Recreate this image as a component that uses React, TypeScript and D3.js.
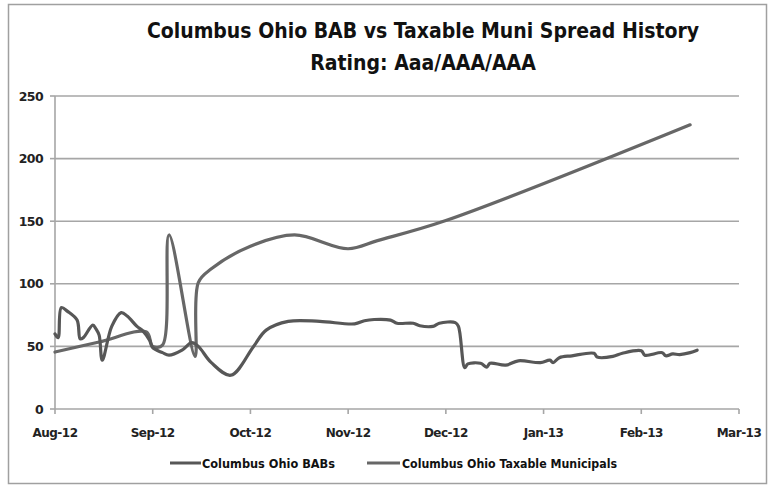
import React from 'react';
import * as d3 from 'd3';

// month boundaries used for the x axis (equal spacing per month, like the source chart)
const monthTicks = [
  '2012-08-01', '2012-09-01', '2012-10-01', '2012-11-01',
  '2012-12-01', '2013-01-01', '2013-02-01', '2013-03-01'
];

const yTicks = [0, 50, 100, 150, 200, 250];

const seriesNames = ['Columbus Ohio BABs', 'Columbus Ohio Taxable Municipals'];
const seriesColors = ['#575757', '#676767'];

// dense series
const babSeries: [string, number][] = [
  ['2012-08-01', 60], ['2012-08-02', 57], ['2012-08-03', 81], ['2012-08-05', 78],
  ['2012-08-08', 71], ['2012-08-09', 56], ['2012-08-10', 57], ['2012-08-13', 67],
  ['2012-08-14', 64], ['2012-08-15', 59], ['2012-08-16', 39], ['2012-08-19', 66],
  ['2012-08-22', 77], ['2012-08-24', 74], ['2012-08-27', 66], ['2012-08-29', 62],
  ['2012-08-31', 55], ['2012-09-01', 49], ['2012-09-04', 45], ['2012-09-06', 43],
  ['2012-09-10', 47], ['2012-09-13', 53], ['2012-09-15', 50], ['2012-09-19', 37],
  ['2012-09-25', 27], ['2012-10-02', 50], ['2012-10-06', 63], ['2012-10-13', 70],
  ['2012-10-23', 70], ['2012-11-03', 68], ['2012-11-06', 70.5], ['2012-11-09', 71.5],
  ['2012-11-14', 71], ['2012-11-16', 68.5], ['2012-11-21', 68.5], ['2012-11-23', 66.5],
  ['2012-11-27', 66], ['2012-11-29', 68.5], ['2012-12-04', 69], ['2012-12-05', 66],
  ['2012-12-07', 33], ['2012-12-08', 36], ['2012-12-12', 36.5], ['2012-12-14', 33.5],
  ['2012-12-15', 36.5], ['2012-12-20', 35], ['2012-12-24', 38.5], ['2012-12-31', 37],
  ['2013-01-03', 39], ['2013-01-04', 37], ['2013-01-06', 41], ['2013-01-10', 42.5],
  ['2013-01-17', 44.5], ['2013-01-18', 41.5], ['2013-01-23', 42], ['2013-01-26', 44.5],
  ['2013-02-01', 46.5], ['2013-02-02', 43], ['2013-02-07', 45], ['2013-02-08', 42.5],
  ['2013-02-10', 44], ['2013-02-12', 43.5], ['2013-02-15', 45], ['2013-02-17', 47]
];

// sparse series
const taxableSeries: [string, number][] = [
  ['2012-08-01', 45.5], ['2012-08-15', 53.5], ['2012-08-30', 61.5], ['2012-09-01', 50],
  ['2012-09-04', 51], ['2012-09-06', 139], ['2012-09-14', 42], ['2012-09-15', 101],
  ['2012-09-19', 112], ['2012-10-01', 130], ['2012-10-15', 139], ['2012-11-01', 128],
  ['2012-11-10', 134.5], ['2012-12-01', 150.5], ['2013-02-15', 227]
];

const width = 771;
const height = 487;
const plot = { left: 55, right: 739, top: 96, bottom: 409 };
const titleFont = '"Liberation Sans Narrow", "Arial Narrow", "DejaVu Sans Condensed", sans-serif';
const axisFont = '"DejaVu Sans", sans-serif';

export default function App() {
  const parse = d3.timeParse('%Y-%m-%d');
  const monthDates = monthTicks.map((d) => parse(d) as Date);

  const x = d3.scaleTime()
    .domain(monthDates)
    .range(monthDates.map((_, i) => plot.left + (i * (plot.right - plot.left)) / (monthDates.length - 1)));

  const y = d3.scaleLinear().domain([0, 250]).range([plot.bottom, plot.top]);

  const line = d3.line<[string, number]>()
    .x((d) => x(parse(d[0]) as Date))
    .y((d) => y(d[1]))
    .curve(d3.curveCatmullRom.alpha(0.5));

  const fmt = d3.timeFormat('%b-%y');
  const legend = [
    { lx: 170, len: 31, tx: 202, tw: 133 },
    { lx: 367, len: 33, tx: 402, tw: 215 }
  ];

  return (
    <svg width={width} height={height} style={{ position: 'absolute', left: 0, top: 0, background: '#fff' }}>
      <rect x={8.5} y={4.5} width={758} height={479} fill="#fff" stroke="#a0a0a0" strokeWidth={1.5} />

      <text x={423} y={38} textAnchor="middle" fontFamily={titleFont} fontWeight="bold" fontSize={21} fill="#111">
        Columbus Ohio BAB vs Taxable  Muni Spread History
      </text>
      <text x={423} y={70} textAnchor="middle" fontFamily={titleFont} fontWeight="bold" fontSize={21} fill="#111">
        Rating: Aaa/AAA/AAA
      </text>

      {yTicks.filter((t) => t > 0).map((t) => (
        <line key={t} x1={plot.left} x2={plot.right} y1={y(t)} y2={y(t)} stroke="#a6a6a6" strokeWidth={1.6} />
      ))}
      <line x1={plot.left} x2={plot.left} y1={plot.top} y2={plot.bottom} stroke="#a6a6a6" strokeWidth={1.6} />
      <line x1={plot.left} x2={plot.right} y1={plot.bottom} y2={plot.bottom} stroke="#a6a6a6" strokeWidth={1.6} />
      {monthDates.map((d, i) => (
        <line key={i} x1={x(d)} x2={x(d)} y1={plot.bottom} y2={plot.bottom + 5} stroke="#a6a6a6" strokeWidth={1.6} />
      ))}
      {yTicks.map((t) => (
        <line key={'yt' + t} x1={plot.left - 5} x2={plot.left} y1={y(t)} y2={y(t)} stroke="#a6a6a6" strokeWidth={1.6} />
      ))}

      {yTicks.map((t) => (
        <text key={'yl' + t} x={43} y={y(t) + 4.5} textAnchor="end" fontFamily={axisFont} fontWeight="bold" fontSize={12.5} fill="#222" letterSpacing={-0.6}>
          {t}
        </text>
      ))}
      {monthDates.map((d, i) => (
        <text key={'xl' + i} x={x(d)} y={437} textAnchor="middle" fontFamily={axisFont} fontWeight="bold" fontSize={12} fill="#222" letterSpacing={-0.5}>
          {fmt(d)}
        </text>
      ))}

      <path d={line(taxableSeries) || ''} fill="none" stroke={seriesColors[1]} strokeWidth={3.2} strokeLinejoin="round" strokeLinecap="round" />
      <path d={line(babSeries) || ''} fill="none" stroke={seriesColors[0]} strokeWidth={3.2} strokeLinejoin="round" strokeLinecap="round" />

      {seriesNames.map((name, i) => {
        const L = legend[i];
        return (
          <g key={name}>
            <line x1={L.lx} x2={L.lx + L.len} y1={463} y2={463} stroke={seriesColors[i]} strokeWidth={3} />
            <text x={L.tx} y={467.5} fontFamily={titleFont} fontWeight="bold" fontSize={12} fill="#111"
              textLength={L.tw} lengthAdjust="spacingAndGlyphs">
              {name}
            </text>
          </g>
        );
      })}
    </svg>
  );
}
